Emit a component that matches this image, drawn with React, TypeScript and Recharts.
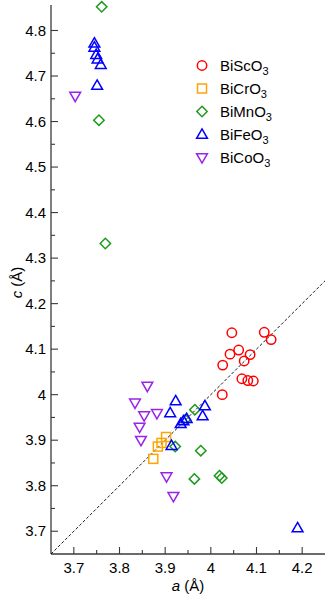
import React from 'react';
import { ScatterChart, Scatter, XAxis, YAxis, ReferenceLine, Legend } from 'recharts';

const BiScO3 = [
  { a: 4.046, c: 4.136 }, { a: 4.117, c: 4.137 }, { a: 4.132, c: 4.121 },
  { a: 4.042, c: 4.089 }, { a: 4.061, c: 4.098 }, { a: 4.086, c: 4.088 },
  { a: 4.073, c: 4.074 }, { a: 4.026, c: 4.065 }, { a: 4.068, c: 4.035 },
  { a: 4.081, c: 4.031 }, { a: 4.093, c: 4.030 }, { a: 4.025, c: 4.000 },
];
const BiCrO3 = [
  { a: 3.902, c: 3.907 }, { a: 3.892, c: 3.894 }, { a: 3.884, c: 3.886 }, { a: 3.874, c: 3.859 },
];
const BiMnO3 = [
  { a: 3.761, c: 4.852 }, { a: 3.755, c: 4.603 }, { a: 3.769, c: 4.332 },
  { a: 3.965, c: 3.967 }, { a: 3.944, c: 3.945 }, { a: 3.922, c: 3.886 },
  { a: 3.978, c: 3.877 }, { a: 3.964, c: 3.815 }, { a: 4.019, c: 3.822 }, { a: 4.024, c: 3.817 },
];
const BiFeO3 = [
  { a: 3.745, c: 4.772 }, { a: 3.745, c: 4.763 }, { a: 3.749, c: 4.747 },
  { a: 3.752, c: 4.737 }, { a: 3.759, c: 4.725 }, { a: 3.751, c: 4.679 },
  { a: 3.923, c: 3.986 }, { a: 3.911, c: 3.960 }, { a: 3.987, c: 3.975 },
  { a: 3.982, c: 3.953 }, { a: 3.947, c: 3.947 }, { a: 3.940, c: 3.942 },
  { a: 3.934, c: 3.936 }, { a: 3.914, c: 3.888 }, { a: 4.190, c: 3.707 },
];
const BiCoO3 = [
  { a: 3.703, c: 4.656 }, { a: 3.861, c: 4.019 }, { a: 3.834, c: 3.982 },
  { a: 3.854, c: 3.954 }, { a: 3.882, c: 3.959 }, { a: 3.844, c: 3.929 },
  { a: 3.847, c: 3.900 }, { a: 3.903, c: 3.820 }, { a: 3.918, c: 3.777 },
];
const diagonal = [{ a: 3.65, c: 3.65 }, { a: 4.25, c: 4.25 }];

const xDomain = [3.65, 4.25];
const yDomain = [3.65, 4.856];
const xMajor = [3.7, 3.8, 3.9, 4, 4.1, 4.2];
const xMinor = [3.75, 3.85, 3.95, 4.05, 4.15];
const yMajor = [3.7, 3.8, 3.9, 4, 4.1, 4.2, 4.3, 4.4, 4.5, 4.6, 4.7, 4.8];
const yMinor = [3.75, 3.85, 3.95, 4.05, 4.15, 4.25, 4.35, 4.45, 4.55, 4.65, 4.75];
const xTicks = [...xMajor, ...xMinor].sort((p, q) => p - q);
const yTicks = [...yMajor, ...yMinor].sort((p, q) => p - q);

const FONT = '"Liberation Sans", Arial, Helvetica, sans-serif';
const FRAME = '#3a3a3a';
const RED = '#ff0000';
const ORANGE = '#ffa500';
const GREEN = '#1f9a1f';
const BLUE = '#0000ff';
const PURPLE = '#9a24e6';
const MAJ = 7;
const MIN = 4;
const SW = 1.5;

const isMajor = (v: number, list: number[]) => list.some((m) => Math.abs(m - v) < 1e-6);

function Marker({ kind, cx, cy, color }: any) {
  if (cx == null || cy == null) return null;
  if (kind === 'circle') return <circle cx={cx} cy={cy} r={4.7} fill="none" stroke={color} strokeWidth={SW} />;
  if (kind === 'square') return <rect x={cx - 4.5} y={cy - 4.5} width={9} height={9} fill="none" stroke={color} strokeWidth={SW} />;
  if (kind === 'diamond')
    return <polygon points={`${cx},${cy - 5.2} ${cx + 5.2},${cy} ${cx},${cy + 5.2} ${cx - 5.2},${cy}`} fill="none" stroke={color} strokeWidth={SW} />;
  if (kind === 'up')
    return <polygon points={`${cx},${cy - 5.6} ${cx + 5.4},${cy + 3.8} ${cx - 5.4},${cy + 3.8}`} fill="none" stroke={color} strokeWidth={SW} strokeLinejoin="miter" />;
  return <polygon points={`${cx},${cy + 5.6} ${cx + 5.4},${cy - 3.8} ${cx - 5.4},${cy - 3.8}`} fill="none" stroke={color} strokeWidth={SW} strokeLinejoin="miter" />;
}

const seriesList = [
  { label: 'BiScO', data: BiScO3, kind: 'circle', color: RED },
  { label: 'BiCrO', data: BiCrO3, kind: 'square', color: ORANGE },
  { label: 'BiMnO', data: BiMnO3, kind: 'diamond', color: GREEN },
  { label: 'BiFeO', data: BiFeO3, kind: 'up', color: BLUE },
  { label: 'BiCoO', data: BiCoO3, kind: 'down', color: PURPLE },
];

function BottomTick(props: any) {
  const { x, y, payload } = props;
  const v = payload.value;
  const major = isMajor(v, xMajor);
  return (
    <g>
      <line x1={x} x2={x} y1={y} y2={y - (major ? MAJ : MIN)} stroke={FRAME} strokeWidth={1.1} />
      {major && (
        <text x={x} y={y + 19} textAnchor="middle" fontSize={15} fontFamily={FONT} fill="#000">{String(v)}</text>
      )}
    </g>
  );
}
function TopTick(props: any) {
  const { x, y, payload } = props;
  const major = isMajor(payload.value, xMajor);
  return <line x1={x} x2={x} y1={y} y2={y + (major ? MAJ : MIN)} stroke={FRAME} strokeWidth={1.1} />;
}
function LeftTick(props: any) {
  const { x, y, payload } = props;
  const v = payload.value;
  const major = isMajor(v, yMajor);
  return (
    <g>
      <line x1={x} x2={x + (major ? MAJ : MIN)} y1={y} y2={y} stroke={FRAME} strokeWidth={1.1} />
      {major && (
        <text x={x - 5} y={y + 5.2} textAnchor="end" fontSize={15} fontFamily={FONT} fill="#000">{String(v)}</text>
      )}
    </g>
  );
}
function RightTick(props: any) {
  const { x, y, payload } = props;
  const major = isMajor(payload.value, yMajor);
  return <line x1={x} x2={x - (major ? MAJ : MIN)} y1={y} y2={y} stroke={FRAME} strokeWidth={1.1} />;
}

const XLabel = (props: any) => {
  const vb = props.viewBox || {};
  return (
    <text x={vb.x + vb.width / 2} y={vb.y + 37} textAnchor="middle" fontSize={15} fontFamily={FONT} fill="#000">
      <tspan fontStyle="italic">a</tspan> (Å)
    </text>
  );
};
const YLabel = (props: any) => {
  const vb = props.viewBox || {};
  const cx = 22;
  const cy = vb.y + vb.height / 2 + 3;
  return (
    <text x={cx} y={cy} transform={`rotate(-90 ${cx} ${cy})`} textAnchor="middle" fontSize={15} fontFamily={FONT} fill="#000">
      <tspan fontStyle="italic">c</tspan> (Å)
    </text>
  );
};

const renderLegend = () => (
  <div style={{ fontFamily: FONT, fontSize: 15, color: '#000' }}>
    {seriesList.map((s) => (
      <div key={s.label} style={{ display: 'flex', alignItems: 'center', height: 23 }}>
        <svg width={20} height={23} style={{ display: 'block' }}>
          <Marker kind={s.kind} cx={10} cy={11.5} color={s.color} />
        </svg>
        <span style={{ marginLeft: 8, whiteSpace: 'nowrap' }}>
          {s.label}
          <span style={{ fontSize: 11, position: 'relative', top: 4 }}>3</span>
        </span>
      </div>
    ))}
  </div>
);

export default function App() {
  return (
    <div style={{ position: 'absolute', left: 0, top: 0, width: 327, height: 596, background: '#fff' }}>
      <ScatterChart width={327} height={596} margin={{ top: 5, right: 2, bottom: 0, left: 0 }}>
        <XAxis xAxisId="b" dataKey="a" type="number" domain={xDomain} ticks={xTicks} interval={0}
          orientation="bottom" height={42} tickSize={0} tickMargin={0} tickLine={false}
          axisLine={{ stroke: FRAME, strokeWidth: 1.3 }} tick={<BottomTick />} label={<XLabel />} />
        <XAxis xAxisId="t" dataKey="a" type="number" domain={xDomain} ticks={xTicks} interval={0}
          orientation="top" height={0} tickSize={0} tickMargin={0} tickLine={false}
          axisLine={{ stroke: FRAME, strokeWidth: 1.3 }} tick={<TopTick />} />
        <YAxis yAxisId="l" dataKey="c" type="number" domain={yDomain} ticks={yTicks} interval={0}
          orientation="left" width={51} tickSize={0} tickMargin={0} tickLine={false}
          axisLine={{ stroke: FRAME, strokeWidth: 1.3 }} tick={<LeftTick />} label={<YLabel />} />
        <YAxis yAxisId="r" dataKey="c" type="number" domain={yDomain} ticks={yTicks} interval={0}
          orientation="right" width={0} tickSize={0} tickMargin={0} tickLine={false}
          axisLine={{ stroke: FRAME, strokeWidth: 1.3 }} tick={<RightTick />} />
        <Scatter xAxisId="t" yAxisId="r" data={diagonal} line={{ stroke: '#000', strokeWidth: 0.9, strokeDasharray: '3 2' }}
          shape={() => null} isAnimationActive={false} legendType="none" />
        {seriesList.map((s) => (
          <Scatter key={s.label} name={s.label} xAxisId="b" yAxisId="l" data={s.data} isAnimationActive={false}
            shape={(p: any) => <Marker kind={s.kind} cx={p.cx} cy={p.cy} color={s.color} />} />
        ))}
        <Legend layout="vertical" align="center" verticalAlign="middle" content={renderLegend}
          wrapperStyle={{ position: 'absolute', left: 192, top: 53.5, width: 120 }} />
      </ScatterChart>
    </div>
  );
}
